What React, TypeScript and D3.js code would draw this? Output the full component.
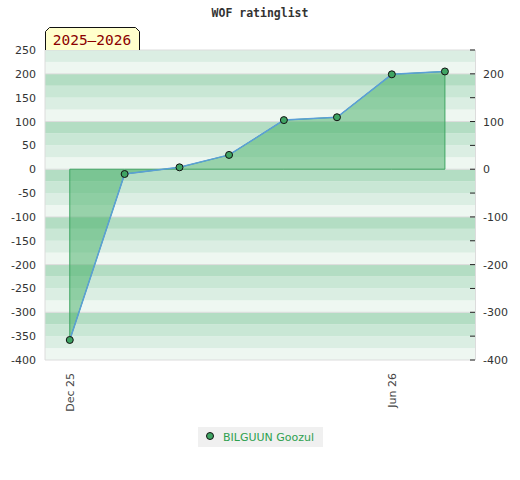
import * as d3 from "d3"

// data
const months = ["2025-12-01", "2026-01-01", "2026-02-01", "2026-03-01", "2026-04-01", "2026-05-01", "2026-06-01", "2026-07-01"]
const ratings = [-358, -10, 4, 30, 103, 109, 199, 205]
const xTickDates = ["2025-12-01", "2026-06-01"]
const xTickLabels = ["Dec 25", "Jun 26"]
const seriesName = "BILGUUN Goozul"
const title = "WOF ratinglist"
const seasonLabel = "2025–2026"

const W = 520
const H = 480
const plot = { left: 45, right: 475, top: 50, bottom: 360 }

const bandColors = ["#eef7f1", "#dbeee3", "#c9e7d5", "#b3ddc3"]

export default function App() {
  const parse = d3.utcParse("%Y-%m-%d")
  const dates = months.map((m) => parse(m) as Date)
  const points = dates.map((d, i) => ({ date: d, value: ratings[i] }))

  const x = d3
    .scaleUtc()
    .domain([d3.utcDay.offset(dates[0], -14), d3.utcDay.offset(dates[dates.length - 1], 17)])
    .range([plot.left, plot.right])

  const y = d3.scaleLinear().domain([-400, 250]).range([plot.bottom, plot.top])

  const bands = d3.range(-400, 250, 25)
  const majorLines = d3.range(-400, 251, 100).concat([250])
  const leftTicks = d3.range(-400, 251, 50)
  const rightTicks = d3.range(-400, 251, 50)

  const line = d3
    .line<{ date: Date; value: number }>()
    .x((d) => x(d.date))
    .y((d) => y(d.value))

  const area = d3
    .area<{ date: Date; value: number }>()
    .x((d) => x(d.date))
    .y0(y(0))
    .y1((d) => y(d.value))

  const green = "#3fa463"

  return (
    <svg width={W} height={H} style={{ position: "absolute", left: 0, top: 0, background: "#fff" }}>
      <text
        x={W / 2}
        y={17}
        textAnchor="middle"
        fontFamily="'DejaVu Sans Mono', monospace"
        fontWeight="bold"
        fontSize={11.5}
        fill="#333"
      >
        {title}
      </text>

      {/* striped background */}
      {bands.map((v) => (
        <rect
          key={v}
          x={plot.left}
          width={plot.right - plot.left}
          y={y(v + 25)}
          height={y(v) - y(v + 25)}
          fill={bandColors[(((v % 100) + 100) % 100) / 25]}
        />
      ))}
      {majorLines.map((v) => (
        <line key={v} x1={plot.left} x2={plot.right} y1={y(v)} y2={y(v)} stroke="#dcdcdc" strokeWidth={1} />
      ))}
      <line x1={plot.left} x2={plot.left} y1={plot.top} y2={plot.bottom} stroke="#dcdcdc" />
      <line x1={plot.right + 0.5} x2={plot.right + 0.5} y1={plot.top} y2={plot.bottom} stroke="#dcdcdc" />

      {/* left axis labels */}
      {leftTicks.map((v) => (
        <text
          key={v}
          x={36}
          y={y(v) + 4}
          textAnchor="end"
          fontFamily="'DejaVu Sans', sans-serif"
          fontSize={11}
          fill="#333"
        >
          {v}
        </text>
      ))}

      {/* right axis */}
      {rightTicks.map((v) => (
        <line key={v} x1={plot.right - 5} x2={plot.right} y1={y(v)} y2={y(v)} stroke="#222" strokeWidth={1} />
      ))}
      {rightTicks
        .filter((v) => v % 100 === 0)
        .map((v) => (
          <text
            key={v}
            x={483}
            y={y(v) + 4}
            textAnchor="start"
            fontFamily="'DejaVu Sans', sans-serif"
            fontSize={11}
            fill="#333"
          >
            {v}
          </text>
        ))}

      {/* series */}
      <path d={area(points) || ""} fill="rgb(66,173,99)" fillOpacity={0.5} stroke={green} strokeWidth={1} />
      <path d={line(points) || ""} fill="none" stroke="#5b9fd8" strokeWidth={1.5} />
      {points.map((p, i) => (
        <circle key={i} cx={x(p.date)} cy={y(p.value)} r={3.5} fill={green} stroke="#111" strokeWidth={1} />
      ))}

      {/* x tick labels */}
      {xTickDates.map((d, i) => {
        const px = x(parse(d) as Date)
        return (
          <text
            key={d}
            transform={`translate(${px + 4},373) rotate(-90)`}
            textAnchor="end"
            fontFamily="'DejaVu Sans', sans-serif"
            fontSize={11}
            fill="#444"
          >
            {xTickLabels[i]}
          </text>
        )
      })}

      {/* season label */}
      <path d="M45.5,50 L45.5,31.5 L49.5,27.5 L135.5,27.5 L139.5,31.5 L139.5,50" fill="#ffffcc" stroke="#111" strokeWidth={1} />
      <text
        x={92}
        y={45}
        textAnchor="middle"
        fontFamily="'DejaVu Sans Mono', monospace"
        fontSize={14.5}
        fill="#8b0000"
      >
        {seasonLabel}
      </text>

      {/* legend */}
      <rect x={198} y={427} width={125} height={20} fill="#f0f0f0" />
      <circle cx={210} cy={436} r={3.5} fill={green} stroke="#111" strokeWidth={1} />
      <text x={223} y={440.5} fontFamily="'DejaVu Sans', sans-serif" fontSize={11} fill="#2ea04f">
        {seriesName}
      </text>
    </svg>
  )
}
